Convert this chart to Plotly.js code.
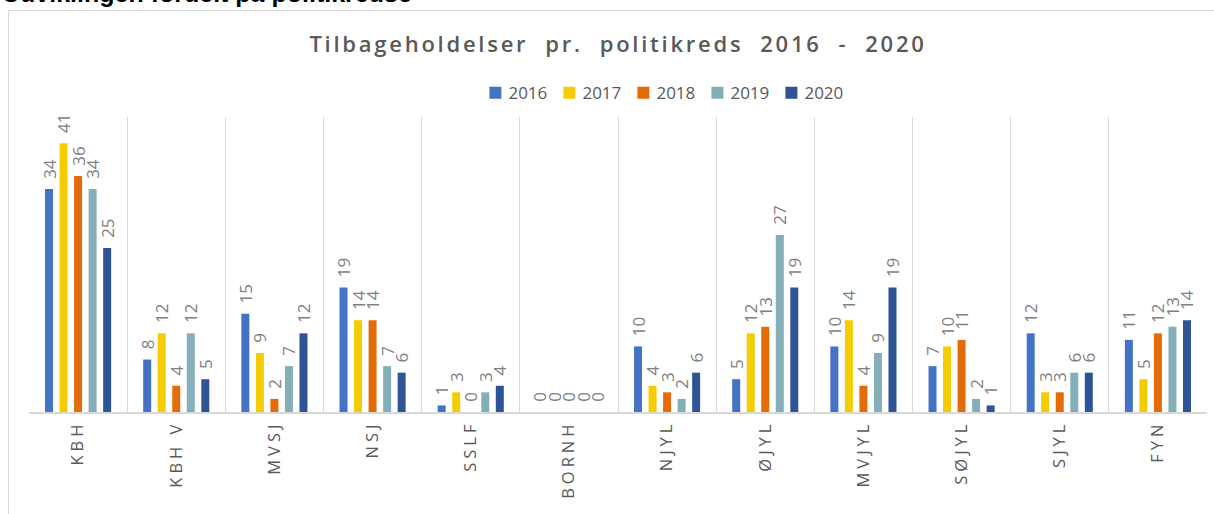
<!DOCTYPE html>
<html>
<head>
<meta charset="utf-8">
<script src="https://cdn.plot.ly/plotly-3.0.1.min.js"></script>
<style>
  html, body { margin: 0; padding: 0; background: #ffffff; overflow: hidden; }
  #frame { position: absolute; left: 8px; top: 10px; width: 1400px; height: 700px;
           border-top: 1px solid #d9d9d9; border-left: 1px solid #d9d9d9; }
  #chart { position: absolute; left: 0; top: 0; width: 1214px; height: 514px; }
  #chart .gtitle { letter-spacing: 2.75px; }
  #chart .xtick text { letter-spacing: 4px; }
  #chart .legendtext { transform: translateX(-7px); }
</style>
</head>
<body>
<div id="frame"></div>
<div id="chart"></div>
<script>
const categories = ["KBH", "KBH V", "MVSJ", "NSJ", "SSLF", "BORNH", "NJYL", "ØJYL", "MVJYL", "SØJYL", "SJYL", "FYN"];
const years = ["2016", "2017", "2018", "2019", "2020"];
const v2016 = [34, 8, 15, 19, 1, 0, 10, 5, 10, 7, 12, 11];
const v2017 = [41, 12, 9, 14, 3, 0, 4, 12, 14, 10, 3, 5];
const v2018 = [36, 4, 2, 14, 0, 0, 3, 13, 4, 11, 3, 12];
const v2019 = [34, 12, 7, 7, 3, 0, 2, 27, 9, 2, 6, 13];
const v2020 = [25, 5, 12, 6, 4, 0, 6, 19, 19, 1, 6, 14];
const seriesValues = [v2016, v2017, v2018, v2019, v2020];
const colors = ["#4472C4", "#F4CC00", "#E36C09", "#84AEB8", "#2E5496"];

// leading non-breaking + thin space gives the label gap above each bar
const labelPad = "\u00A0\u2009";

const traces = years.map((yr, i) => ({
  type: "bar",
  name: yr,
  x: categories,
  y: seriesValues[i],
  marker: { color: colors[i] },
  text: seriesValues[i].map(v => labelPad + v),
  textposition: "outside",
  textangle: -90,
  constraintext: "none",
  cliponaxis: false,
  textfont: { family: "Open Sans, Liberation Sans, sans-serif", size: 17, color: "#7f7f7f" },
  hoverinfo: "x+y+name"
}));

const layout = {
  width: 1214,
  height: 514,
  margin: { l: 29, r: 7, t: 117, b: 102, pad: 0 },
  paper_bgcolor: "rgba(0,0,0,0)",
  plot_bgcolor: "rgba(0,0,0,0)",
  barmode: "group",
  bargap: 0.26,
  bargroupgap: 0.45,
  showlegend: true,
  title: {
    text: "Tilbageholdelser  pr.  politikreds  2016  -  2020",
    font: { family: "Open Sans, Liberation Sans, sans-serif", size: 22, color: "#595959", weight: 600 },
    x: 0.5, xref: "paper", xanchor: "center",
    y: 1 - 44 / 514, yref: "container", yanchor: "middle"
  },
  legend: {
    orientation: "h",
    x: 0.536, xanchor: "center", xref: "paper",
    y: 1.081, yanchor: "middle",
    font: { family: "Open Sans, Liberation Sans, sans-serif", size: 17, color: "#595959" },
    itemwidth: 30,
    entrywidth: 29,
    entrywidthmode: "pixels",
    traceorder: "normal"
  },
  xaxis: {
    type: "category",
    tickson: "boundaries",
    showgrid: true,
    gridcolor: "#d9d9d9",
    gridwidth: 1,
    showline: true,
    linecolor: "#d9d9d9",
    linewidth: 2,
    ticks: "",
    tickangle: -90,
    tickfont: { family: "Open Sans, Liberation Sans, sans-serif", size: 16.5, color: "#595959" },
    automargin: false,
    fixedrange: true
  },
  yaxis: {
    range: [0, 45],
    showgrid: false,
    zeroline: false,
    showticklabels: false,
    ticks: "",
    showline: false,
    fixedrange: true
  },
  annotations: [{
    text: "<b>Udviklingen fordelt på politikredse</b>",
    xref: "paper", yref: "paper",
    x: -29 / 1178, xanchor: "left",
    y: 1 + (117 - 9) / 295, yanchor: "bottom",
    showarrow: false,
    font: { family: "Liberation Sans, Arial, sans-serif", size: 25, color: "#000000" }
  }],
  font: { family: "Open Sans, Liberation Sans, sans-serif" }
};

Plotly.newPlot("chart", traces, layout, { displayModeBar: false, staticPlot: true });
</script>
</body>
</html>
